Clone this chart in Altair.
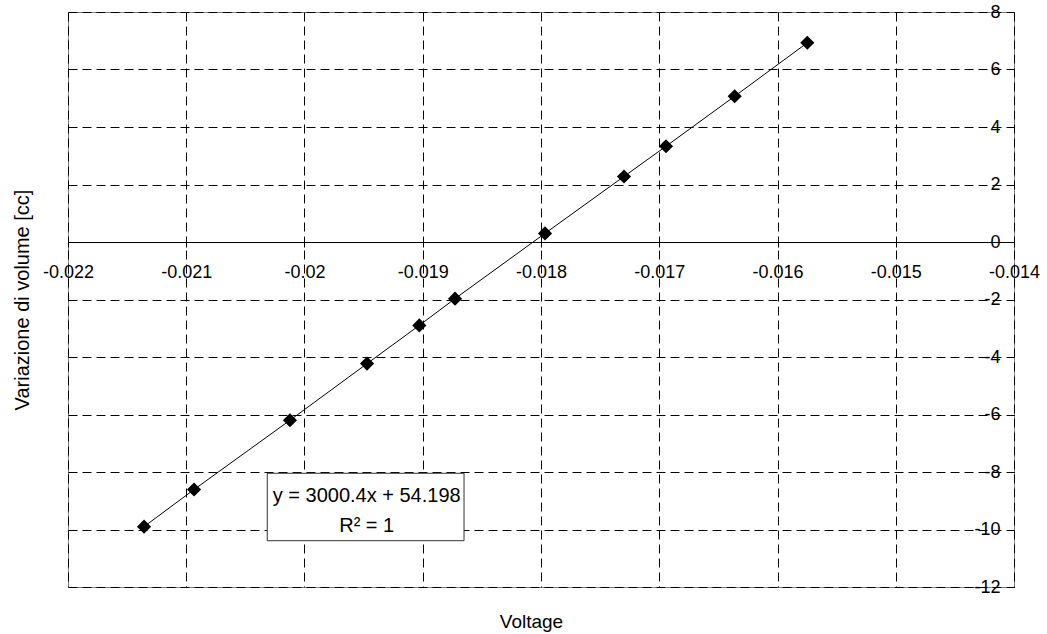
import altair as alt
import pandas as pd

# ---- data ----
voltage = [-0.021357, -0.020934, -0.020123, -0.019471, -0.019029, -0.018727,
           -0.017966, -0.017298, -0.016943, -0.016362, -0.015748]
volume = [-9.90, -8.61, -6.20, -4.23, -2.90, -1.97, 0.30, 2.28, 3.33, 5.07, 6.93]

x_ticks = [-0.022, -0.021, -0.020, -0.019, -0.018, -0.017, -0.016, -0.015, -0.014]
y_ticks = [-12, -10, -8, -6, -4, -2, 0, 2, 4, 6, 8]

eq_lines = ["y = 3000.4x + 54.198", "R\u00b2 = 1"]
eq_x = [-0.019474, -0.019474]
eq_y = [-9.054, -10.077]
box_x = [-0.020315]
box_x2 = [-0.018651]
box_y = [-8.045]
box_y2 = [-10.39]

W, H = 946, 575
FONT = "Liberation Sans"

pts = pd.DataFrame({"Voltage": voltage, "Volume": volume})
eq = pd.DataFrame({"Voltage": eq_x, "Volume": eq_y, "t": eq_lines})
box = pd.DataFrame({"Voltage": box_x, "bx2": box_x2, "Volume": box_y, "by2": box_y2})

xscale = alt.Scale(domain=[-0.022, -0.014], nice=False, zero=False)
yscale = alt.Scale(domain=[-12, 8], nice=False, zero=False)

zero_px = H * 8 / 20  # pixel position of y=0 inside the plot

x_axis = alt.Axis(
    values=x_ticks, orient="bottom", offset=zero_px - H,
    labelExpr="'' + datum.value", labelFlush=False, labelOverlap=False,
    tickSize=5, tickColor="black", labelPadding=16,
    labelFont=FONT, labelFontSize=18, labelColor="black",
    domain=True, domainColor="black", domainWidth=1,
    grid=True, gridColor="black", gridDash=[9, 5], gridWidth=1, gridOpacity=1,
    title="Voltage", titleFont=FONT, titleFontSize=19, titleFontWeight="normal",
    titleColor="black", titleBaseline="alphabetic", titleY=H + 40 - zero_px,
    titleX=463,
)
y_axis = alt.Axis(
    values=y_ticks, orient="left", offset=-W,
    labelExpr="'' + datum.value", labelFlush=False, labelOverlap=False,
    tickSize=5, tickColor="black", labelPadding=9,
    labelFont=FONT, labelFontSize=18, labelColor="black",
    domain=False,
    grid=True, gridColor="black", gridDash=[9, 5], gridWidth=1, gridOpacity=1,
    title="Variazione di volume [cc]", titleFont=FONT, titleFontSize=20,
    titleFontWeight="normal", titleColor="black", titleBaseline="alphabetic",
    titleX=-40 - W,
)

X = alt.X("Voltage:Q", scale=xscale, axis=x_axis)
Y = alt.Y("Volume:Q", scale=yscale, axis=y_axis)

line = alt.Chart(pts).mark_line(color="black", strokeWidth=1).encode(x=X, y=Y)
points = alt.Chart(pts).mark_point(shape="diamond", filled=True, color="black",
                                   size=200, opacity=1).encode(x=X, y=Y)
rect = alt.Chart(box).mark_rect(fill="white", stroke="#333333", strokeWidth=1).encode(
    x=X, x2="bx2:Q", y=Y, y2="by2:Q",
)
text = alt.Chart(eq).mark_text(font=FONT, fontSize=20, color="black",
                               align="center", baseline="alphabetic").encode(
    x=X, y=Y, text="t:N",
)

chart = alt.layer(line, points, rect, text).properties(
    width=W, height=H,
    padding={"left": 68, "top": 12, "right": 33, "bottom": 47},
    autosize=alt.AutoSizeParams(type="none"),
    background="white",
).configure_view(stroke="#808080", strokeWidth=1)

chart.save("out.html", embed_options={"renderer": "svg", "actions": False})
